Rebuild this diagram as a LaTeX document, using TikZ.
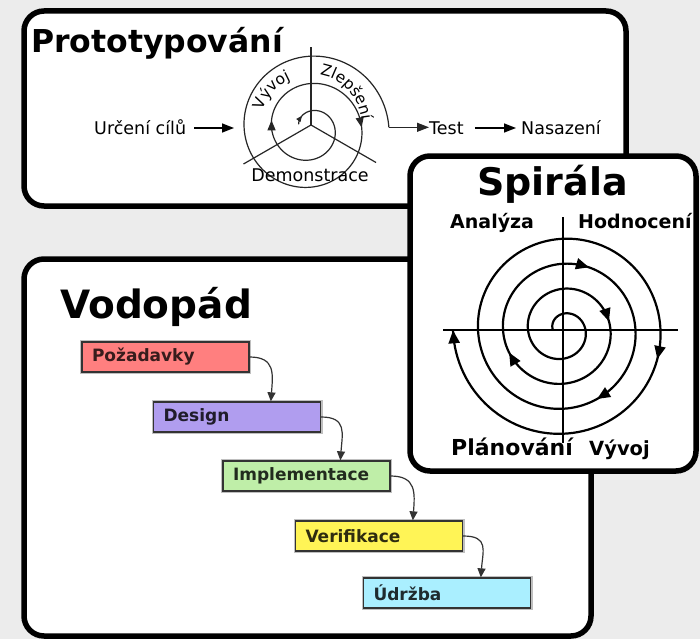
\documentclass[tikz,border=0pt]{standalone}
\usepackage{fontspec}
\setmainfont{DejaVu Sans}
\usetikzlibrary{arrows.meta,calc,decorations.text}
\definecolor{bg}{HTML}{ECECEC}
\definecolor{cred}{HTML}{FF7F7F}
\definecolor{cpur}{HTML}{B09DEF}
\definecolor{cgrn}{HTML}{BFEEA8}
\definecolor{cyel}{HTML}{FFF456}
\definecolor{ccya}{HTML}{AAEFFF}
\pgfmathdeclarefunction{spr}{1}{\pgfmathparse{10+3.979*(#1)}}
\pgfmathdeclarefunction{spx}{1}{\pgfmathparse{563+spr(#1)*cos(180-deg(#1))}}
\pgfmathdeclarefunction{spy}{1}{\pgfmathparse{330-spr(#1)*sin(180-deg(#1))}}
\pgfmathdeclarefunction{ppr}{1}{\pgfmathparse{24.5+4.35*(#1)+3.5*sin(deg(#1))-1.5*cos(deg(#1))}}
\pgfmathdeclarefunction{ppx}{1}{\pgfmathparse{311+ppr(#1)*cos(deg(#1))}}
\pgfmathdeclarefunction{ppy}{1}{\pgfmathparse{125+ppr(#1)*sin(deg(#1))}}
\tikzset{
  bigbox/.style={line width=5.5pt, rounded corners=20pt, fill=white, draw=black},
  pline/.style={line width=1.2pt, draw=black!85},
  ptip/.style={-{Triangle[length=10pt,width=8pt]}},
  aline/.style={line width=1.6pt, draw=black, -{Triangle[length=12pt,width=9pt]}},
  sline/.style={line width=2.2pt, draw=black},
  stip/.style={-{Triangle[length=13pt,width=11pt]}},
  wbox/.style={draw=black!80, line width=1.3pt, minimum width=167pt, minimum height=30pt,
    text width=147pt, align=left, inner xsep=10pt, inner ysep=0pt,
    font=\fontsize{17}{20}\selectfont\bfseries, preaction={draw=black!25, line width=4pt}},
  wline/.style={line width=1.2pt, draw=black!80, -{Triangle[length=9pt,width=8pt]}},
  ptext/.style={inner sep=0pt, font=\fontsize{17.5}{21}\selectfont},
  stext/.style={inner sep=0pt, font=\fontsize{19}{23}\selectfont\bfseries},
}
\begin{document}
\begin{tikzpicture}[x=1pt,y=-1pt]
\fill[bg] (0,0) rectangle (700,639);
\useasboundingbox (0,0) rectangle (700,639);

% ---------- Prototypovani ----------
\draw[bigbox] (24,11) rectangle (626,206);
\node[anchor=base west, inner sep=0pt, font=\fontsize{31.5}{38}\selectfont\bfseries] (ptitle) at (31,53) {Prototypování};
\coordinate (pc) at (311,125);
\draw[pline] (pc) -- (311,47);
\draw[pline] (pc) -- (243.5,164);
\draw[pline] (pc) -- (376,162.5);
\draw[pline] plot[domain=-3.1:12.596, samples=400, variable=\t] ({ppx(\t)},{ppy(\t)});
\coordinate (pexit) at ({ppx(12.596)},{ppy(12.596)});
\draw[pline, -{Triangle[length=6pt,width=5pt]}] ({ppx(-2.5)},{ppy(-2.5)}) -- ({ppx(-2.35)},{ppy(-2.35)});
\draw[pline, ptip] ({ppx(3.06)},{ppy(3.06)}) -- ({ppx(3.26)},{ppy(3.26)});
\draw[pline, ptip] ({ppx(6.15)},{ppy(6.15)}) -- ({ppx(6.33)},{ppy(6.33)});
% curved labels along the spiral
\path[decorate, decoration={text along path, text align=center,
  text={|\fontsize{15.5}{18}\selectfont|Vývoj}}]
  plot[domain=172:105, samples=40, variable=\a] ({311+50*cos(\a)},{125-50*sin(\a)});
\path[decorate, decoration={text along path, text align=center,
  text={|\fontsize{15.5}{18}\selectfont|Zlepšení}}]
  plot[domain=84:2, samples=50, variable=\a] ({311+51*cos(\a)},{125-51*sin(\a)});
\node[inner sep=0pt, font=\fontsize{17.5}{21}\selectfont] (demo) at (310,175.5) {Demonstrace};

\node[ptext, anchor=base west] (urceni) at (94,135) {Určení cílů};
\node[ptext, anchor=base west] (test) at (429,135) {Test};
\node[ptext, anchor=base west] (nasaz) at (521,135) {Nasazení};
\coordinate (uin) at (234,128);
\draw[aline] ($(urceni.east |- uin)+(8,0)$) -- (uin);
\draw[pline, -{Triangle[length=12pt,width=9pt]}] (pexit) -- (pexit -| test.west);
\draw[aline] ($(test.east |- uin)+(11,0)$) -- ($(nasaz.west |- uin)+(-5,0)$);

% ---------- Vodopad ----------
\draw[bigbox] (24,259) rectangle (591,636);
\node[anchor=base west, inner sep=0pt, font=\fontsize{39}{46}\selectfont\bfseries] (vtitle) at (60,318) {Vodopád};
\node[wbox, fill=cred, text=cred!22!black] (poz) at (165.5,357) {Požadavky};
\node[wbox, fill=cpur, text=cpur!18!black] (des) at (237,417) {Design};
\node[wbox, fill=cgrn, text=cgrn!18!black] (imp) at (306.5,476) {Implementace};
\node[wbox, fill=cyel, text=cyel!18!black] (ver) at (379,536) {Verifikace};
\node[wbox, fill=ccya, text=ccya!18!black] (udr) at (447,593) {Údržba};
\draw[wline] (poz.east) .. controls +(26,0) and +(2,-27) .. ([xshift=118pt]des.north west);
\draw[wline] (des.east) .. controls +(26,0) and +(2,-27) .. ([xshift=118pt]imp.north west);
\draw[wline] (imp.east) .. controls +(26,0) and +(2,-27) .. ([xshift=118pt]ver.north west);
\draw[wline] (ver.east) .. controls +(26,0) and +(2,-27) .. ([xshift=118pt]udr.north west);

% ---------- Spirala ----------
\draw[bigbox] (410,156) rectangle (696,471);
\node[anchor=base, inner sep=0pt, font=\fontsize{38}{45}\selectfont\bfseries] (stitle) at (552.5,195) {Spirála};
\node[stext, anchor=base west] (anal) at (450,228) {Analýza};
\node[stext, anchor=base west] (hodn) at (578,228) {Hodnocení};
\node[stext, anchor=base west, font=\fontsize{22}{26}\selectfont\bfseries] (plan) at (451,455) {Plánování};
\node[stext, anchor=base west, font=\fontsize{19.5}{23}\selectfont\bfseries] (vyv2) at (589,455) {Vývoj};
\coordinate (sc) at (563,330);
\draw[line width=1.6pt] (563,217) -- (563,443);
\draw[line width=1.6pt] (443,330) -- (678,330);
\draw[sline] plot[domain=0:25.13, samples=500, variable=\t] ({spx(\t)},{spy(\t)});
\foreach \p in {9.24,12.17,14.53,16.82,22.29,25.13}
  \draw[sline, stip] ({spx(\p-0.1)},{spy(\p-0.1)}) -- ({spx(\p)},{spy(\p)});
\end{tikzpicture}
\end{document}
